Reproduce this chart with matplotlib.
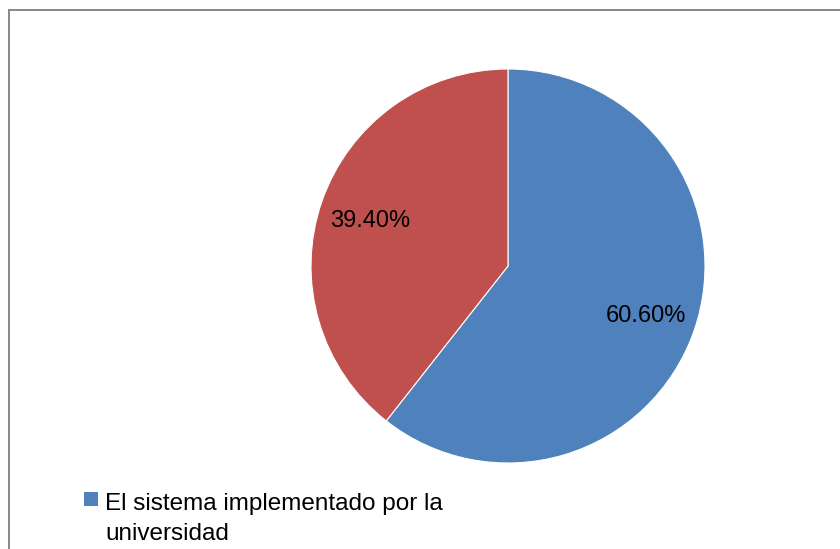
import matplotlib
matplotlib.use("Agg")
import matplotlib.pyplot as plt
from matplotlib.patches import Rectangle

# data
labels = ["El sistema implementado por la\nuniversidad", ""]
values = [60.6, 39.4]
colors = ["#4F81BD", "#C0504D"]

plt.rcParams['font.family'] = ['Liberation Sans', 'DejaVu Sans']

W, H = 840, 549
fig = plt.figure(figsize=(W / 100, H / 100), dpi=100)

# outer chart border (runs off the right and bottom edges)
fig.patches.append(Rectangle((9 / W, -0.1), 1.2, 1 - 10 / H + 0.1,
                             transform=fig.transFigure, fill=False,
                             edgecolor="#888888", linewidth=1.4))

cx, cy, r = 508, 266, 197
ax = fig.add_axes([(cx - r) / W, (H - cy - r) / H, 2 * r / W, 2 * r / H])
wedges, texts, autotexts = ax.pie(values, colors=colors, startangle=90,
                                  counterclock=False, autopct='%1.2f%%',
                                  pctdistance=0.74,
                                  wedgeprops=dict(edgecolor='white', linewidth=0.8),
                                  textprops=dict(fontsize=17, color='black'))
for t in autotexts:
    t.set_va('center_baseline')
ax.set_xlim(-1, 1)
ax.set_ylim(-1, 1)
ax.set_aspect('equal')

# legend: only the first entry is visible in the chart area
fig.patches.append(Rectangle((84 / W, 1 - 506 / H), 14 / W, 14 / H,
                             transform=fig.transFigure,
                             facecolor=wedges[0].get_facecolor(), edgecolor='none'))
fig.text(105 / W, 1 - 493 / H, labels[0], fontsize=17.5, va='top', ha='left',
         linespacing=1.45)

fig.savefig("out.png", dpi=100)
